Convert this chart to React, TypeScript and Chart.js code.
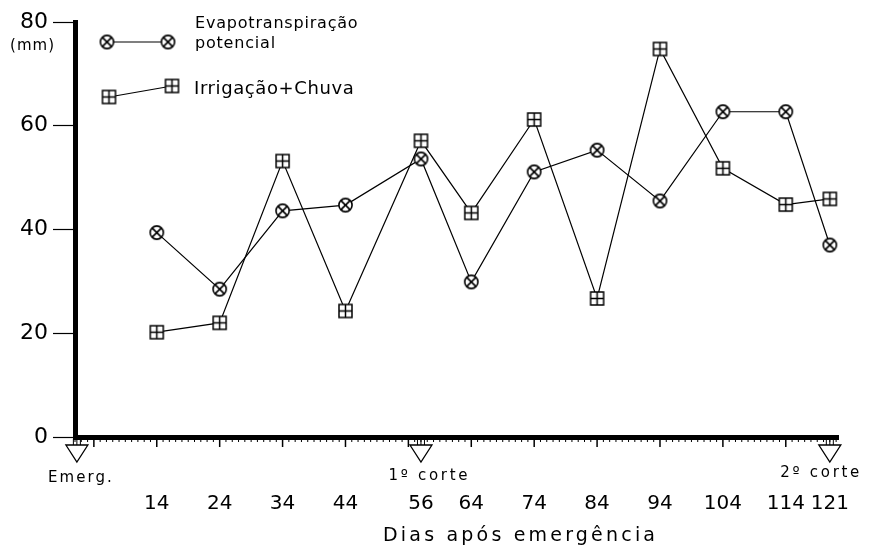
import React, { useEffect, useRef } from 'react';
import { Chart, registerables } from 'chart.js';

Chart.register(...registerables);

// ---- data ----
const days = [14, 24, 34, 44, 56, 64, 74, 84, 94, 104, 114, 121];
const evapotranspiracao = [39.4, 28.5, 43.6, 44.7, 53.6, 29.9, 51.1, 55.3, 45.5, 62.7, 62.7, 37.0];
const irrigacaoChuva = [20.2, 22.0, 53.2, 24.3, 57.1, 43.2, 61.2, 26.7, 74.8, 51.8, 44.8, 45.9];
const yTicks = [0, 20, 40, 60, 80];
const eventDays = [1.3, 56, 121];
const eventLabels = ['Emerg.', '1º corte', '2º corte'];

const FONT = '"DejaVu Sans", "Liberation Sans", sans-serif';

function makeCircleX(): HTMLCanvasElement {
  const c = document.createElement('canvas');
  c.width = 17; c.height = 17;
  const g = c.getContext('2d')!;
  const r = 6.6;
  g.fillStyle = '#fff';
  g.strokeStyle = '#000';
  g.lineWidth = 1.6;
  g.beginPath(); g.arc(8.5, 8.5, r, 0, Math.PI * 2); g.fill(); g.stroke();
  const d = r * Math.SQRT1_2;
  g.beginPath();
  g.moveTo(8.5 - d, 8.5 - d); g.lineTo(8.5 + d, 8.5 + d);
  g.moveTo(8.5 + d, 8.5 - d); g.lineTo(8.5 - d, 8.5 + d);
  g.stroke();
  return c;
}

function makeSquarePlus(): HTMLCanvasElement {
  const c = document.createElement('canvas');
  c.width = 17; c.height = 17;
  const g = c.getContext('2d')!;
  g.fillStyle = '#fff';
  g.strokeStyle = '#000';
  g.lineWidth = 1.5;
  g.fillRect(2, 2, 13, 13);
  g.strokeRect(2, 2, 13, 13);
  g.beginPath();
  g.moveTo(8.5, 2); g.lineTo(8.5, 15);
  g.moveTo(2, 8.5); g.lineTo(15, 8.5);
  g.stroke();
  return c;
}

function spacedText(ctx: CanvasRenderingContext2D, text: string, cx: number, cy: number, targetW: number) {
  (ctx as any).letterSpacing = '0px';
  const w = ctx.measureText(text).width;
  const n = text.length;
  const sp = n > 1 ? Math.max(0, (targetW - w) / (n - 1)) : 0;
  (ctx as any).letterSpacing = sp + 'px';
  ctx.textAlign = 'left';
  ctx.textBaseline = 'middle';
  ctx.fillText(text, cx - targetW / 2, cy);
  (ctx as any).letterSpacing = '0px';
}

export default function App() {
  const ref = useRef<HTMLCanvasElement>(null);

  useEffect(() => {
    if (!ref.current) return;
    const circleX = makeCircleX();
    const squarePlus = makeSquarePlus();

    const decor = {
      id: 'decor',
      afterDraw(chart: any) {
        const ctx: CanvasRenderingContext2D = chart.ctx;
        const xs = chart.scales.x;
        const ys = chart.scales.y;
        const base = ys.getPixelForValue(0);
        ctx.save();
        ctx.strokeStyle = '#000';
        ctx.fillStyle = '#000';

        // minor / major ticks on the x axis
        for (let d = Math.ceil(xs.min); d <= Math.floor(xs.max); d++) {
          const px = xs.getPixelForValue(d);
          const major = (d - 4) % 10 === 0;
          ctx.lineWidth = major ? 1.5 : 1;
          ctx.beginPath();
          ctx.moveTo(px, base + 2);
          ctx.lineTo(px, base + (major ? 10 : 5));
          ctx.stroke();
        }

        // event arrows
        const labelDx = [3, 7, -10];
        const labelDy = [41, 39, 36];
        eventDays.forEach((day, i) => {
          const px = xs.getPixelForValue(day);
          ctx.lineWidth = 1;
          for (const dx of [-3.5, 0, 3.5]) {
            ctx.beginPath();
            ctx.moveTo(px + dx, base + 2);
            ctx.lineTo(px + dx, base + 9);
            ctx.stroke();
          }
          ctx.lineWidth = 1.3;
          ctx.beginPath();
          ctx.moveTo(px - 11, base + 8);
          ctx.lineTo(px + 11, base + 8);
          ctx.lineTo(px, base + 25);
          ctx.closePath();
          ctx.fillStyle = '#fff';
          ctx.fill();
          ctx.stroke();
          ctx.fillStyle = '#000';
          ctx.font = `15px ${FONT}`;
          const w = eventLabels[i] === 'Emerg.' ? 64 : 79;
          spacedText(ctx, eventLabels[i], px + labelDx[i], base + labelDy[i], w);
        });

        // x axis title
        ctx.font = `19px ${FONT}`;
        spacedText(ctx, 'Dias após emergência', 519, 536, 272);

        // y unit
        ctx.font = `15px ${FONT}`;
        spacedText(ctx, '(mm)', 32, 46, 44);

        // legend
        ctx.lineWidth = 1.2;
        ctx.beginPath(); ctx.moveTo(107, 42); ctx.lineTo(168, 42); ctx.stroke();
        ctx.drawImage(circleX, 107 - 8.5, 42 - 8.5);
        ctx.drawImage(circleX, 168 - 8.5, 42 - 8.5);
        ctx.beginPath(); ctx.moveTo(109, 97); ctx.lineTo(172, 86); ctx.stroke();
        ctx.drawImage(squarePlus, 109 - 8.5, 97 - 8.5);
        ctx.drawImage(squarePlus, 172 - 8.5, 86 - 8.5);

        ctx.font = `16px ${FONT}`;
        ctx.textAlign = 'left';
        ctx.textBaseline = 'middle';
        (ctx as any).letterSpacing = '0.8px';
        ctx.fillText('Evapotranspiração', 195, 24);
        ctx.fillText('potencial', 195, 44);
        ctx.font = `18px ${FONT}`;
        (ctx as any).letterSpacing = '0.6px';
        ctx.fillText('Irrigação+Chuva', 194, 89);
        (ctx as any).letterSpacing = '0px';
        ctx.restore();
      },
    };

    const chart = new Chart(ref.current, {
      type: 'line',
      data: {
        datasets: [
          {
            label: 'Evapotranspiração potencial',
            data: days.map((d, i) => ({ x: d, y: evapotranspiracao[i] })),
            borderColor: '#000',
            borderWidth: 1.2,
            pointStyle: circleX as any,
            pointRadius: 7,
            tension: 0,
            fill: false,
          },
          {
            label: 'Irrigação+Chuva',
            data: days.map((d, i) => ({ x: d, y: irrigacaoChuva[i] })),
            borderColor: '#000',
            borderWidth: 1.2,
            pointStyle: squarePlus as any,
            pointRadius: 7,
            tension: 0,
            fill: false,
          },
        ],
      },
      options: {
        animation: false,
        responsive: false,
        maintainAspectRatio: false,
        layout: { padding: { top: 22, right: 37, left: 0, bottom: 0 } },
        plugins: { legend: { display: false }, tooltip: { enabled: false } },
        scales: {
          x: {
            type: 'linear',
            min: 1,
            max: 122.3,
            afterBuildTicks: (s: any) => { s.ticks = days.map((v) => ({ value: v })); },
            afterFit: (s: any) => { s.height = 112; },
            grid: { display: true, drawOnChartArea: false, drawTicks: true, tickLength: 55, tickColor: 'rgba(0,0,0,0)' },
            border: { display: true, color: '#000', width: 5 },
            ticks: {
              font: { family: FONT, size: 20 },
              color: '#000',
              padding: 0,
              maxRotation: 0,
              autoSkip: false,
              callback: (v: any) => String(v),
            },
          },
          y: {
            type: 'linear',
            min: 0,
            max: 80,
            afterBuildTicks: (s: any) => { s.ticks = yTicks.map((v) => ({ value: v })); },
            afterFit: (s: any) => { s.width = 75; },
            grid: { display: true, drawOnChartArea: false, drawTicks: true, tickLength: 22, tickColor: '#000', tickWidth: 1.2 },
            border: { display: true, color: '#000', width: 5 },
            ticks: { font: { family: FONT, size: 22 }, color: '#000', padding: 5 },
          },
        },
      },
      plugins: [decor],
    });
    return () => chart.destroy();
  }, []);

  return (
    <div style={{ position: 'fixed', left: 0, top: 0, width: 875, height: 549, background: '#fff' }}>
      <canvas ref={ref} width={875} height={549} style={{ display: 'block' }} />
    </div>
  );
}
